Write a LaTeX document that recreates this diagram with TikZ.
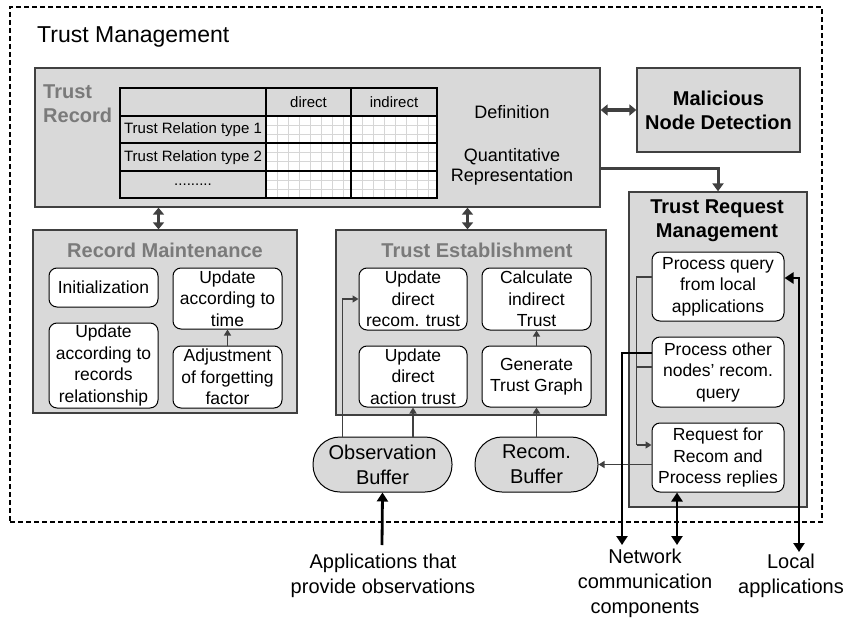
\documentclass[tikz,border=0pt]{standalone}
\usepackage{fontspec}
\setmainfont{Liberation Sans}
\usetikzlibrary{arrows.meta,calc}
\definecolor{lgray}{HTML}{D9D9D9}
\definecolor{dgray}{HTML}{404040}
\definecolor{tgray}{HTML}{7A7A7A}
\definecolor{gridc}{HTML}{D6D6D6}
\begin{document}
\begin{tikzpicture}[x=1pt,y=-1pt,
  frame/.style={draw=black, line width=1.1pt, dash pattern=on 5pt off 3pt, inner sep=0pt},
  graybox/.style={draw=dgray, fill=lgray, line width=1.3pt, inner sep=0pt},
  wbox/.style={draw=black, fill=white, line width=1pt, rounded corners=8pt, inner sep=0pt, align=center, font=\fontsize{17.5}{21.5}\selectfont},
  buf/.style={draw=black, fill=lgray, line width=1pt, rounded corners=27pt, inner sep=0pt, align=center, font=\fontsize{20}{25}\selectfont},
  ttl/.style={font=\bfseries\fontsize{20}{24}\selectfont, text=tgray, align=center, inner sep=0pt},
  bttl/.style={font=\bfseries\fontsize{20}{24}\selectfont, align=center},
  tabt/.style={font=\fontsize{15}{18}\selectfont, inner sep=0pt},
  deft/.style={font=\fontsize{18}{20}\selectfont, align=center, inner sep=0pt},
  lbl/.style={font=\fontsize{20}{25}\selectfont, align=center, inner sep=0pt},
  gridl/.style={draw=gridc, line width=0.8pt},
  tabl/.style={draw=black, line width=1.2pt},
  dbl/.style={draw=dgray, line width=3.5pt, {Triangle[length=7pt,width=11pt]}-{Triangle[length=7pt,width=11pt]}},
  garrow/.style={draw=dgray, line width=3pt, -{Triangle[length=8pt,width=11pt]}},
  tarrow/.style={draw=dgray, line width=1.4pt, -{Triangle[length=6pt,width=7pt]}},
  tline/.style={draw=dgray, line width=1.4pt},
  bline/.style={draw=black, line width=2.8pt}
]
\useasboundingbox (0,0) rectangle (854,621);

% outer frame
\node[frame, minimum width=812pt, minimum height=515pt] (tm) at (416,264.5) {};
\node[anchor=base west, inner sep=0pt, font=\fontsize{23}{27}\selectfont] (tmt) at (37,42) {Trust Management};

% trust record
\node[graybox, minimum width=565pt, minimum height=139pt] (tr) at (317.5,137.5) {};
\node[ttl, anchor=west, align=left] (trt) at (43,104) {Trust\\Record};
\fill[white] (266,116) rectangle (437,198);
\foreach \gx in {277,288,...,343} \draw[gridl] (\gx,116) -- (\gx,198);
\foreach \gx in {362,373,...,428} \draw[gridl] (\gx,116) -- (\gx,198);
\foreach \gy in {125,134,152,161,180,189} \draw[gridl] (266,\gy) -- (437,\gy);
\draw[tabl] (120,88) rectangle (437,198);
\draw[tabl] (120,116) -- (437,116) (120,143) -- (437,143) (120,171) -- (437,171)
  (266,88) -- (266,198) (351,88) -- (351,198);
\node[tabt] (hd) at (308.5,102) {direct};
\node[tabt] (hi) at (394,102) {indirect};
\node[tabt] (r1) at (193,130) {Trust Relation type 1};
\node[tabt] (r2) at (193,157.5) {Trust Relation type 2};
\node[tabt] (r3) at (193,185) {.........};
\node[deft] (def) at (512,112) {Definition};
\node[deft] (qr) at (512,167) {Quantitative\\Representation};

% malicious node detection
\node[graybox, bttl, minimum width=163pt, minimum height=84pt] (md) at (718.5,110) {Malicious\\Node Detection};

% record maintenance
\node[graybox, minimum width=264pt, minimum height=183pt] (rm) at (165,321.5) {};
\node[ttl] (rmt) at (165,250) {Record Maintenance};
\node[wbox, minimum width=109pt, minimum height=39pt] (init) at (103.5,287.5) {Initialization};
\node[wbox, minimum width=109pt, minimum height=61pt] (uat) at (227.5,298.5) {Update\\according to\\time};
\node[wbox, minimum width=109pt, minimum height=85pt] (uarr) at (103.5,365.5) {Update\\according to\\records\\relationship};
\node[wbox, minimum width=109pt, minimum height=62pt] (adj) at (227.5,377) {Adjustment\\of forgetting\\factor};

% trust establishment
\node[graybox, minimum width=270pt, minimum height=185pt] (te) at (471,322.5) {};
\node[ttl] (tet) at (477,250) {Trust Establishment};
\node[wbox, minimum width=108pt, minimum height=62pt] (udr) at (413,299) {Update\\direct\\recom. trust};
\node[wbox, minimum width=109pt, minimum height=62pt] (cit) at (536.5,299) {Calculate\\indirect\\Trust};
\node[wbox, minimum width=108pt, minimum height=61pt] (uda) at (413,376.5) {Update\\direct\\action trust};
\node[wbox, minimum width=109pt, minimum height=61pt] (gtg) at (536.5,376.5) {Generate\\Trust Graph};

% trust request management
\node[graybox, minimum width=178pt, minimum height=315pt] (trm) at (718,349.5) {};
\node[bttl, inner sep=0pt] (trmt) at (717,221) {Trust Request\\Management};
\node[wbox, minimum width=132pt, minimum height=69pt] (pq) at (718,286.5) {Process query\\from local\\applications};
\node[wbox, minimum width=132pt, minimum height=70pt] (po) at (718,372) {Process other\\nodes’ recom.\\query};
\node[wbox, minimum width=132pt, minimum height=69pt] (req) at (718,457.5) {Request for\\Recom and\\Process replies};

% buffers
\node[buf, minimum width=139pt, minimum height=55pt] (ob) at (382.5,464.5) {Observation\\Buffer};
\node[buf, minimum width=123pt, minimum height=55pt] (rb) at (536.5,464.5) {Recom.\\Buffer};

% outside labels
\node[lbl] (app) at (383,576) {Applications that\\provide observations};
\node[lbl] (net) at (645,583) {Network\\communication\\components};
\node[lbl] (loc) at (791,576) {Local\\applications};
\coordinate (appin) at (382,545);
\coordinate (net1) at (622,545);
\coordinate (net2) at (677,545);
\coordinate (loc1) at (799,552);

% connectors
\draw[dbl] (md.west -| tr.east) -- (md.west);
\draw[garrow] ($(tr.south east)+(0,-39)$) -| (trm.north);
\draw[dbl] (tr.south -| init.east) -- (rm.north -| init.east);
\draw[dbl] (tr.south -| udr.east) -- (te.north -| udr.east);
\draw[tarrow] (adj.north) -- (uat.south);
\draw[tarrow] (gtg.north) -- (cit.south);
\draw[tarrow] ($(ob.north west)+(30,0)$) |- (udr.west);
\draw[tarrow] (ob.north -| uda.south) -- (uda.south);
\draw[tarrow] (rb.north) -- (gtg.south);
\draw[tarrow] (req.west |- rb.east) -- (rb.east);
\draw[tline] ($(pq.west)+(0,-9.5)$) -| ($(req.west)+(-15,-12.5)$);
\draw[tarrow] ($(req.west)+(-15,-12.5)$) -- ($(req.west)+(0,-12.5)$);
\draw[tline] ($(po.west)+(0,-5)$) -- ($(po.west)+(-15,-5)$);
\draw[bline, -{Triangle[length=9pt,width=11pt]}] ($(po.west)+(0,-19)$) -| (net1);
\draw[bline, {Triangle[length=9pt,width=11pt]}-{Triangle[length=9pt,width=11pt]}] ([xshift=-41pt]req.south) -- (net2);
\draw[bline, {Triangle[length=9pt,width=11pt]}-{Triangle[length=9pt,width=11pt]}] ($(pq.east)+(0,-8.5)$) -| (loc1);
\draw[bline, -{Triangle[length=9pt,width=11pt]}] (appin) -- (ob.south);
\end{tikzpicture}
\end{document}
